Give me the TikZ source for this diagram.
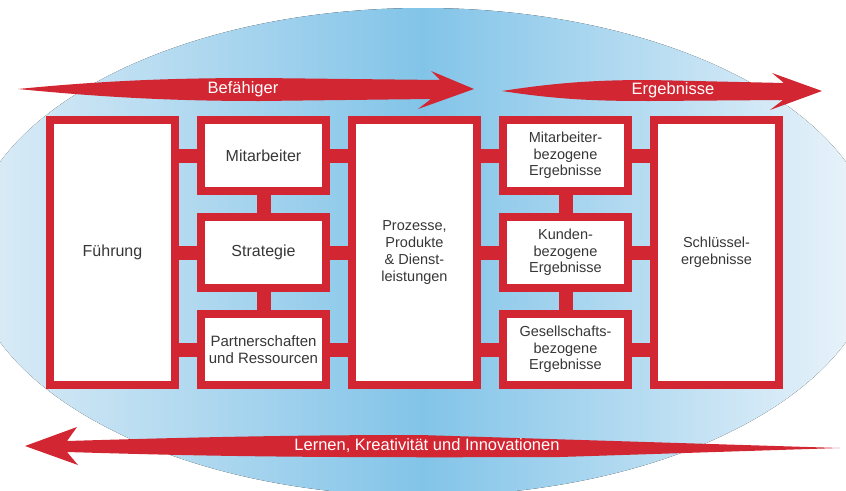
\documentclass[tikz,border=0pt]{standalone}
\usepackage{fontspec}
\setmainfont{Liberation Sans}
\usepackage{xcolor}
\usetikzlibrary{positioning,calc}

\definecolor{efqmred}{RGB}{210,38,50}
\definecolor{efqmtext}{RGB}{55,55,55}
\definecolor{skymid}{RGB}{130,196,232}
\definecolor{skyleft}{RGB}{222,237,247}
\definecolor{skyright}{RGB}{238,245,251}

\begin{document}
\begin{tikzpicture}[x=1pt, y=-1pt,
    bigbox/.style={draw=efqmred, line width=8pt, fill=white, minimum width=125pt,
        minimum height=265pt, align=center, text=efqmtext, font=\fontsize{16}{19}\selectfont},
    smallbox/.style={bigbox, minimum height=71pt},
    resultbox/.style={smallbox, font=\fontsize{14.5}{16.7}\selectfont},
    linkbar/.style={draw=efqmred, line width=14pt},
    arrowlabel/.style={text=white, font=\fontsize{16.5}{19}\selectfont}]
    \clip (0,0) rectangle (846,490);

    % Background
    \fill[left color=skyleft, right color=skyright, middle color=skymid]
        (423,252) ellipse [x radius=455, y radius=244];

    % Arrows
    \fill[efqmred] (18,89) .. controls (110,80) and (180,78) .. (260,78) -- (440,80)
        -- (431,71) -- (474,89) -- (418,109) -- (431,99) -- (260,101)
        .. controls (180,101) and (110,98) .. (18,89) -- cycle;
    \fill[efqmred] (502,91) .. controls (560,82) and (600,80) .. (650,80) -- (784,83)
        -- (772,73) -- (822,91) -- (770,110) -- (783,100) -- (650,101)
        .. controls (600,101) and (560,100) .. (502,91) -- cycle;
    \fill[efqmred] (25,446) -- (77,427) -- (67,441) .. controls (200,437) and (300,435) .. (420,435)
        -- (840,448) -- (560,457) .. controls (300,458) and (200,456) .. (67,452)
        -- (78,465) -- cycle;
    \node[arrowlabel] (befaehiger) at (243,89) {Befähiger};
    \node[arrowlabel] (ergebnisse) at (673,90) {Ergebnisse};
    \node[arrowlabel] (lernen) at (427,446) {Lernen, Kreativität und Innovationen};

    % Enablers
    \node[bigbox] (fuehrung) at (112.5,252.5) {Führung};
    \node[smallbox, right=18pt of fuehrung.north east, anchor=north west] (mitarbeiter) {Mitarbeiter};
    \node[smallbox, below=18pt of mitarbeiter] (strategie) {Strategie};
    \node[smallbox, below=18pt of strategie,
        font=\fontsize{15}{17.5}\selectfont] (partner) {Partnerschaften\\und Ressourcen};
    \node[bigbox, right=18pt of mitarbeiter.north east, anchor=north west,
        font=\fontsize{14.5}{17}\selectfont] (prozesse) {Prozesse,\\Produkte\\\& Dienst-\\leistungen};

    % Results
    \node[resultbox, right=18pt of prozesse.north east, anchor=north west] (mabez) {Mitarbeiter-\\bezogene\\Ergebnisse};
    \node[resultbox, below=18pt of mabez] (kunden) {Kunden-\\bezogene\\Ergebnisse};
    \node[resultbox, below=18pt of kunden] (gesellschaft) {Gesellschafts-\\bezogene\\Ergebnisse};
    \node[bigbox, right=18pt of mabez.north east, anchor=north west,
        font=\fontsize{14.5}{16.7}\selectfont] (schluessel) {Schlüssel-\\ergebnisse};

    % Horizontal links
    \draw[linkbar] (mitarbeiter.west) -- (mitarbeiter.west -| fuehrung.east);
    \draw[linkbar] (strategie.west) -- (strategie.west -| fuehrung.east);
    \draw[linkbar] (partner.west) -- (partner.west -| fuehrung.east);
    \draw[linkbar] (mitarbeiter.east) -- (mitarbeiter.east -| prozesse.west);
    \draw[linkbar] (strategie.east) -- (strategie.east -| prozesse.west);
    \draw[linkbar] (partner.east) -- (partner.east -| prozesse.west);
    \draw[linkbar] (mabez.west) -- (mabez.west -| prozesse.east);
    \draw[linkbar] (kunden.west) -- (kunden.west -| prozesse.east);
    \draw[linkbar] (gesellschaft.west) -- (gesellschaft.west -| prozesse.east);
    \draw[linkbar] (mabez.east) -- (mabez.east -| schluessel.west);
    \draw[linkbar] (kunden.east) -- (kunden.east -| schluessel.west);
    \draw[linkbar] (gesellschaft.east) -- (gesellschaft.east -| schluessel.west);

    % Vertical links
    \draw[linkbar] (mitarbeiter.south) -- (strategie.north);
    \draw[linkbar] (strategie.south) -- (partner.north);
    \draw[linkbar] (mabez.south) -- (kunden.north);
    \draw[linkbar] (kunden.south) -- (gesellschaft.north);
\end{tikzpicture}
\end{document}
